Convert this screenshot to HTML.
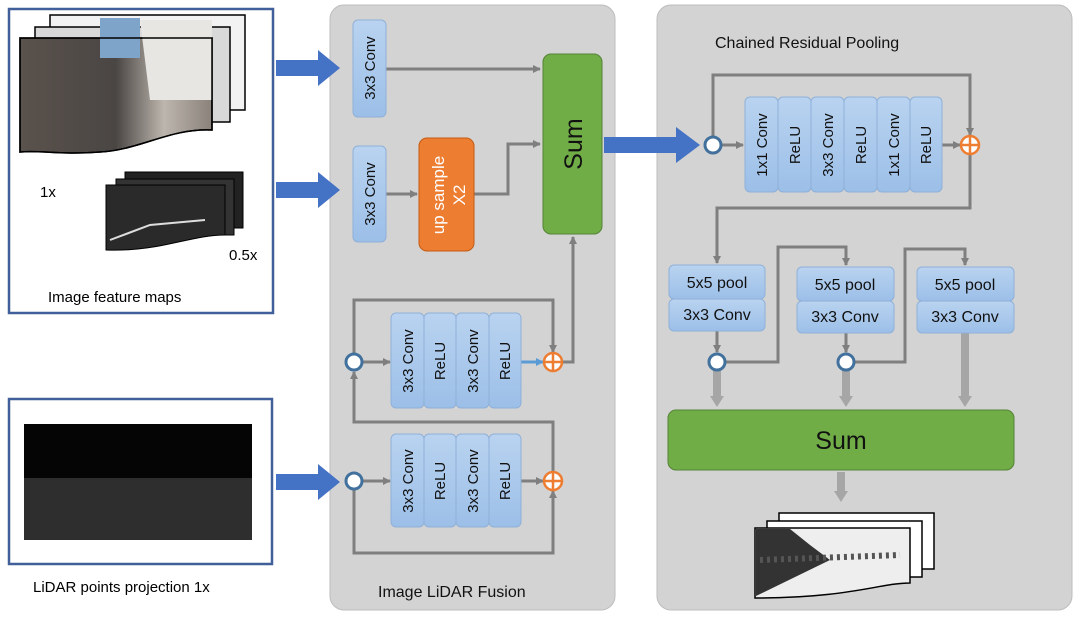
<!DOCTYPE html>
<html><head><meta charset="utf-8"><style>
html,body{margin:0;padding:0;background:#fff;}
svg{display:block;font-family:"Liberation Sans","DejaVu Sans",sans-serif;}
</style></head><body>
<svg width="1080" height="619" viewBox="0 0 1080 619" xmlns="http://www.w3.org/2000/svg">
<defs>
<linearGradient id="bl" x1="0" y1="0" x2="0" y2="1"><stop offset="0" stop-color="#b9d3f0"/><stop offset="1" stop-color="#9cbfe8"/></linearGradient>
<linearGradient id="ph" x1="0" y1="0" x2="1" y2="0"><stop offset="0" stop-color="#5a524c"/><stop offset="0.5" stop-color="#4a4644"/><stop offset="0.75" stop-color="#bdb6ae"/><stop offset="1" stop-color="#8a827a"/></linearGradient>
<marker id="ah" markerWidth="8" markerHeight="8" refX="7" refY="4" orient="auto" markerUnits="userSpaceOnUse"><path d="M0,0 L8,4 L0,8z" fill="#7f7f7f"/></marker>
<marker id="ab" markerWidth="8" markerHeight="8" refX="7" refY="4" orient="auto" markerUnits="userSpaceOnUse"><path d="M0,0 L8,4 L0,8z" fill="#5b9bd5"/></marker>
</defs>
<rect width="1080" height="619" fill="#fff"/>
<rect x="330" y="5" width="285" height="605" rx="14" fill="#d3d3d3" stroke="#bdbdbd"/>
<rect x="657" y="5" width="415" height="605" rx="14" fill="#d3d3d3" stroke="#bdbdbd"/>
<rect x="9" y="9" width="264" height="304" fill="#fff" stroke="#41609a" stroke-width="2.5"/>
<rect x="9" y="399" width="263" height="165" fill="#fff" stroke="#41609a" stroke-width="2.5"/>
<rect x="50" y="15" width="195" height="95" fill="#f2f2f2" stroke="#000" stroke-width="1.5"/>
<rect x="35" y="27" width="195" height="95" fill="#d8d8d8" stroke="#000" stroke-width="1.5"/>
<path d="M20,38 L212,38 L212,130 C170,128 140,150 100,152 C60,155 40,150 20,152 Z" fill="url(#ph)" stroke="#000" stroke-width="1.5"/>
<rect x="100" y="18" width="40" height="40" fill="#7fa4c9"/>
<path d="M140,20 L212,20 L212,100 L150,100 Z" fill="#e8e6e3"/>
<path d="M20,38 L212,38 L212,130 C170,128 140,150 100,152 C60,155 40,150 20,152 Z" fill="none" stroke="#000" stroke-width="1.5"/>
<rect x="125" y="172" width="118" height="56" fill="#222" stroke="#000"/>
<rect x="116" y="179" width="118" height="56" fill="#333" stroke="#000"/>
<path d="M106,185 L225,185 L225,235 C190,235 160,252 106,250 Z" fill="#2a2a2a" stroke="#000"/>
<path d="M110,240 L150,225 L205,220" stroke="#ddd" stroke-width="2" fill="none"/>
<text x="40" y="197" font-size="15">1x</text>
<text x="229" y="260" font-size="15">0.5x</text>
<text x="48" y="302" font-size="15">Image feature maps</text>
<rect x="24" y="424" width="228" height="116" fill="#050505"/>
<rect x="24" y="478" width="228" height="62" fill="#2e2e2e"/>
<text x="33" y="592" font-size="15">LiDAR points projection 1x</text>
<g fill="#4472c4">
<path d="M276,60 h42 v-10 l22,18 l-22,18 v-10 h-42z"/>
<path d="M276,182 h42 v-10 l22,18 l-22,18 v-10 h-42z"/>
<path d="M276,474 h42 v-10 l22,18 l-22,18 v-10 h-42z"/>
<path d="M604,137 h72 v-10 l24,18 l-24,18 v-10 h-72z"/>
</g>
<g stroke="#7f7f7f" stroke-width="3" fill="none">
<path d="M386,69 H540" marker-end="url(#ah)"/>
<path d="M386,194 H417" marker-end="url(#ah)"/>
<path d="M474,194 H508 V144 H540" marker-end="url(#ah)"/>
<path d="M521,362 H573 V237" marker-end="url(#ah)"/>
<path d="M354,354 V300 H553 V352" marker-end="url(#ah)"/>
<path d="M553,472 V422 H354 V372" marker-end="url(#ah)"/>
<path d="M362,362 H390" marker-end="url(#ah)"/>
<path d="M362,481 H390" marker-end="url(#ah)"/>
<path d="M521,481 H543" marker-end="url(#ah)"/>
<path d="M354,489 V553 H553 V491" marker-end="url(#ah)"/>
</g>
<path d="M521,362 H543" stroke="#5b9bd5" stroke-width="3" marker-end="url(#ab)"/>
<g stroke="#8fb0d8" stroke-width="1" fill="url(#bl)">
<rect x="353" y="20" width="33" height="97" rx="5"/>
<rect x="353" y="146" width="33" height="96" rx="5"/>
<rect x="391" y="313" width="33" height="95" rx="5"/><rect x="424" y="313" width="32" height="95" rx="5"/><rect x="456" y="313" width="33" height="95" rx="5"/><rect x="489" y="313" width="32" height="95" rx="5"/>
<rect x="391" y="434" width="33" height="93" rx="5"/><rect x="424" y="434" width="32" height="93" rx="5"/><rect x="456" y="434" width="33" height="93" rx="5"/><rect x="489" y="434" width="32" height="93" rx="5"/>
</g>
<rect x="419" y="138" width="55" height="113" rx="8" fill="#ed7d31" stroke="#c55a11"/>
<rect x="543" y="54" width="59" height="180" rx="8" fill="#70ad47" stroke="#548235"/>
<g font-size="15" fill="#111">
<text transform="translate(375,68) rotate(-90)" text-anchor="middle">3x3 Conv</text>
<text transform="translate(375,194) rotate(-90)" text-anchor="middle">3x3 Conv</text>
<text transform="translate(413,361) rotate(-90)" text-anchor="middle">3x3 Conv</text>
<text transform="translate(445,361) rotate(-90)" text-anchor="middle">ReLU</text>
<text transform="translate(478,361) rotate(-90)" text-anchor="middle">3x3 Conv</text>
<text transform="translate(510,361) rotate(-90)" text-anchor="middle">ReLU</text>
<text transform="translate(413,481) rotate(-90)" text-anchor="middle">3x3 Conv</text>
<text transform="translate(445,481) rotate(-90)" text-anchor="middle">ReLU</text>
<text transform="translate(478,481) rotate(-90)" text-anchor="middle">3x3 Conv</text>
<text transform="translate(510,481) rotate(-90)" text-anchor="middle">ReLU</text>
</g>
<text transform="translate(444,195) rotate(-90)" text-anchor="middle" font-size="17" fill="#fff">up sample</text>
<text transform="translate(465,195) rotate(-90)" text-anchor="middle" font-size="17" fill="#fff">X2</text>
<text transform="translate(582,144) rotate(-90)" text-anchor="middle" font-size="25" fill="#111">Sum</text>
<text x="378" y="597" font-size="16" fill="#111">Image LiDAR Fusion</text>
<text x="715" y="48" font-size="16" fill="#111">Chained Residual Pooling</text>
<g stroke="#7f7f7f" stroke-width="3" fill="none">
<path d="M721,145 H743" marker-end="url(#ah)"/>
<path d="M713,137 V75 H970 V135" marker-end="url(#ah)"/>
<path d="M942,145 H960" marker-end="url(#ah)"/>
<path d="M970,155 V208 H717 V263" marker-end="url(#ah)"/>
<path d="M717,330 V352" marker-end="url(#ah)"/>
<path d="M846,332 V352" marker-end="url(#ah)"/>
<path d="M725,362 H778 V247 H846 V265" marker-end="url(#ah)"/>
<path d="M854,362 H905 V249 H965 V265" marker-end="url(#ah)"/>
</g>
<g fill="#a6a6a6">
<rect x="713" y="371" width="8" height="26"/><path d="M710,396 h14 l-7,11z"/>
<rect x="842" y="371" width="8" height="26"/><path d="M839,396 h14 l-7,11z"/>
<rect x="961" y="333" width="8" height="64"/><path d="M958,396 h14 l-7,11z"/>
<rect x="837" y="472" width="8" height="20"/><path d="M834,491 h14 l-7,11z"/>
</g>
<g stroke="#8fb0d8" stroke-width="1" fill="url(#bl)">
<rect x="745" y="97" width="33" height="95" rx="5"/><rect x="778" y="97" width="33" height="95" rx="5"/><rect x="811" y="97" width="33" height="95" rx="5"/><rect x="844" y="97" width="33" height="95" rx="5"/><rect x="877" y="97" width="33" height="95" rx="5"/><rect x="910" y="97" width="32" height="95" rx="5"/>
<rect x="669" y="265" width="96" height="34" rx="5"/><rect x="669" y="299" width="96" height="32" rx="5"/>
<rect x="797" y="267" width="97" height="34" rx="5"/><rect x="797" y="301" width="97" height="32" rx="5"/>
<rect x="917" y="267" width="97" height="34" rx="5"/><rect x="917" y="301" width="97" height="32" rx="5"/>
</g>
<g font-size="15" fill="#111">
<text transform="translate(767,145) rotate(-90)" text-anchor="middle">1x1 Conv</text>
<text transform="translate(800,145) rotate(-90)" text-anchor="middle">ReLU</text>
<text transform="translate(833,145) rotate(-90)" text-anchor="middle">3x3 Conv</text>
<text transform="translate(866,145) rotate(-90)" text-anchor="middle">ReLU</text>
<text transform="translate(899,145) rotate(-90)" text-anchor="middle">1x1 Conv</text>
<text transform="translate(931,145) rotate(-90)" text-anchor="middle">ReLU</text>
</g>
<g font-size="16" fill="#111" text-anchor="middle">
<text x="717" y="288">5x5 pool</text><text x="717" y="320">3x3 Conv</text>
<text x="845" y="290">5x5 pool</text><text x="845" y="322">3x3 Conv</text>
<text x="965" y="290">5x5 pool</text><text x="965" y="322">3x3 Conv</text>
</g>
<rect x="668" y="410" width="346" height="60" rx="8" fill="#70ad47" stroke="#548235"/>
<text x="841" y="449" font-size="25" text-anchor="middle" fill="#111">Sum</text>
<rect x="779" y="513" width="155" height="56" fill="#fff" stroke="#000" stroke-width="1.5"/>
<rect x="767" y="521" width="155" height="56" fill="#fff" stroke="#000" stroke-width="1.5"/>
<path d="M755,528 L910,528 L910,583 C880,583 850,598 755,598 Z" fill="#eee" stroke="#000" stroke-width="1.5"/>
<path d="M756,529 L790,529 L810,545 L830,560 L756,596 Z" fill="#333"/>
<path d="M760,560 L900,555" stroke="#555" stroke-width="6" stroke-dasharray="3 4"/>
<g fill="#fff" stroke="#41719c" stroke-width="3">
<circle cx="354" cy="362" r="8"/><circle cx="354" cy="481" r="8"/>
<circle cx="713" cy="145" r="8"/><circle cx="717" cy="362" r="8"/><circle cx="846" cy="362" r="8"/>
</g>
<g fill="#fff" stroke="#ed7d31" stroke-width="2.5">
<circle cx="553" cy="362" r="9"/><path d="M544,362h18M553,353v18"/>
<circle cx="553" cy="481" r="9"/><path d="M544,481h18M553,472v18"/>
<circle cx="970" cy="145" r="9"/><path d="M961,145h18M970,136v18"/>
</g>
</svg>
</body></html>
